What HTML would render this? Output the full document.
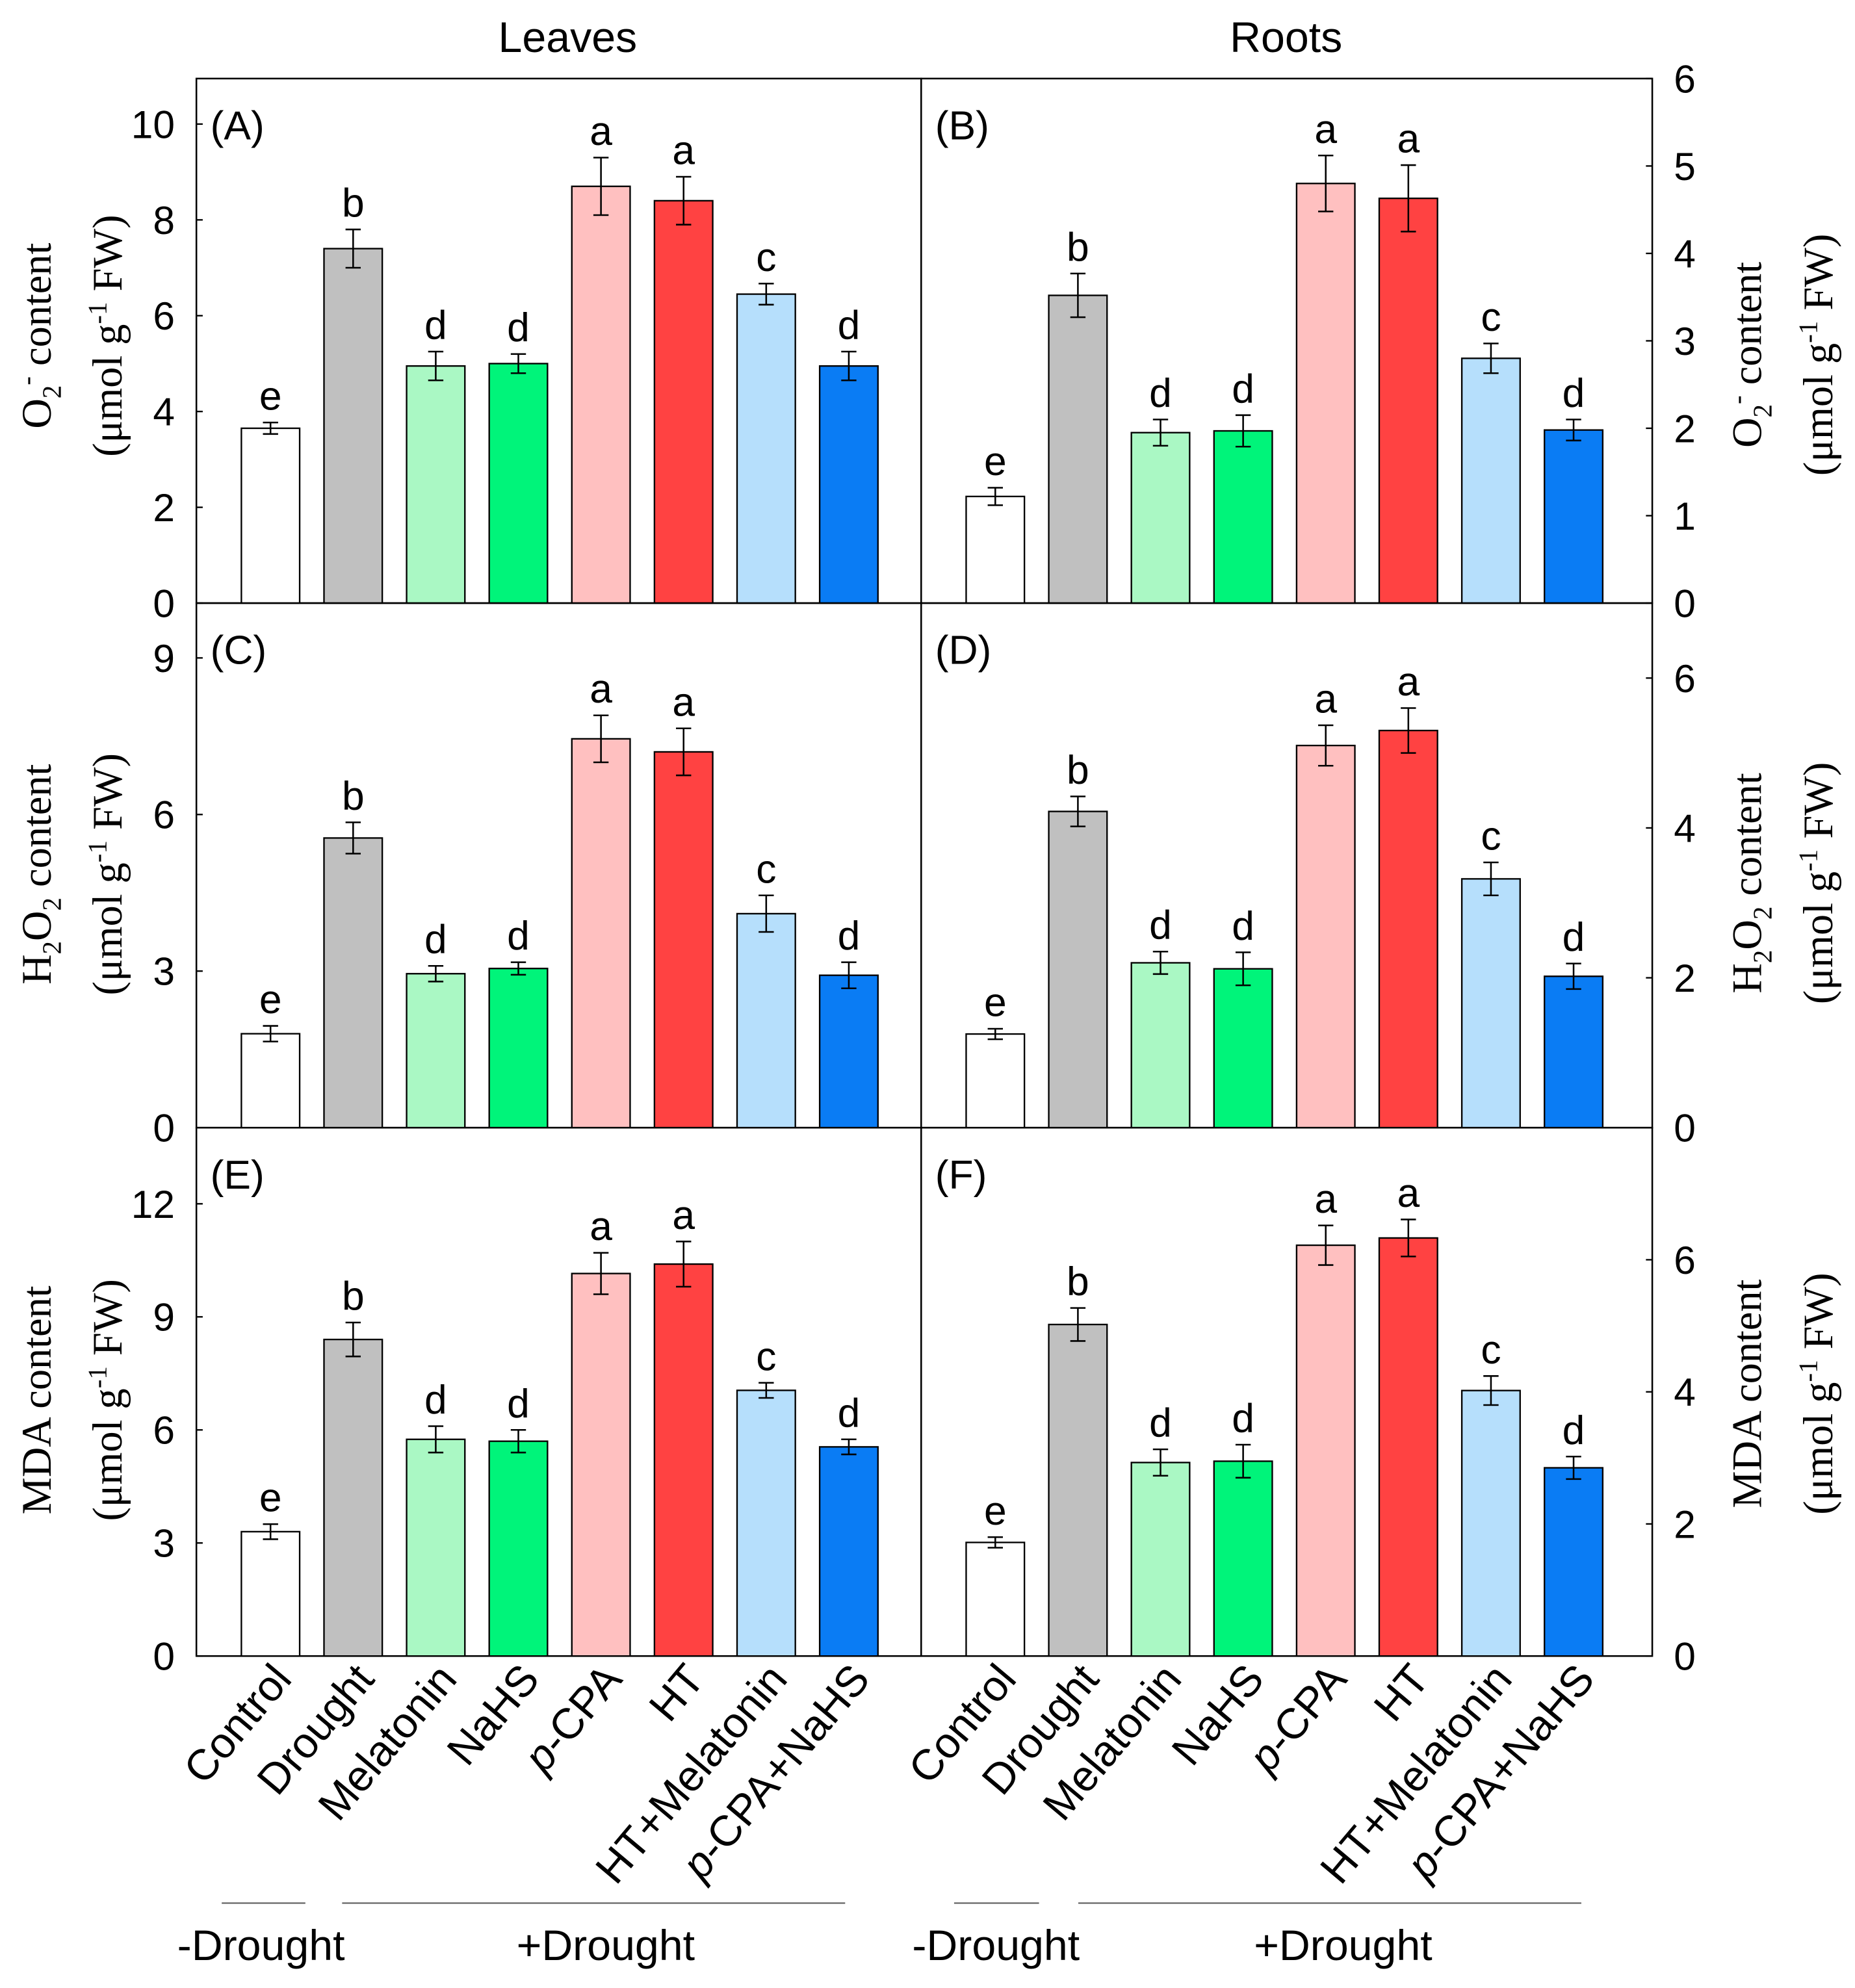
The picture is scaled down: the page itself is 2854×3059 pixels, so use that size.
<!DOCTYPE html>
<html><head><meta charset="utf-8"><style>
html,body{margin:0;padding:0;background:#fff}
svg{display:block}
.tk{font-family:"Liberation Sans",sans-serif;font-size:31px}
.yt{font-family:"Liberation Serif",serif;font-size:33px}
.lt{font-family:"Liberation Sans",sans-serif;font-size:32px}
.gl{font-family:"Liberation Sans",sans-serif;font-size:34px}
.xl{font-family:"Liberation Sans",sans-serif;font-size:34px}
</style></head><body>
<svg id="fig" width="2854" height="3059" viewBox="0 0 1464 1569" preserveAspectRatio="none" xmlns="http://www.w3.org/2000/svg"></svg>
<script>
const categories=["Control","Drought","Melatonin","NaHS","p-CPA","HT","HT+Melatonin","p-CPA+NaHS"];
const colors=["#ffffff","#c0c0c0","#aaf8c4","#00f47a","#ffc0c0","#ff4242","#b6dffc","#0a7cf4"];
const valsA=[3.65,7.4,4.95,5.0,8.7,8.4,6.45,4.95];
const errA=[0.12,0.4,0.3,0.2,0.6,0.5,0.22,0.3];
const letA=["e","b","d","d","a","a","c","d"];
const valsB=[1.22,3.52,1.95,1.97,4.8,4.63,2.8,1.98];
const errB=[0.1,0.25,0.15,0.18,0.32,0.38,0.17,0.12];
const letB=["e","b","d","d","a","a","c","d"];
const valsC=[1.8,5.55,2.95,3.05,7.45,7.2,4.1,2.92];
const errC=[0.15,0.3,0.15,0.12,0.45,0.45,0.35,0.25];
const letC=["e","b","d","d","a","a","c","d"];
const valsD=[1.25,4.22,2.2,2.12,5.1,5.3,3.32,2.02];
const errD=[0.07,0.2,0.15,0.22,0.27,0.3,0.22,0.17];
const letD=["e","b","d","d","a","a","c","d"];
const valsE=[3.3,8.4,5.75,5.7,10.15,10.4,7.05,5.55];
const errE=[0.2,0.45,0.35,0.3,0.55,0.6,0.2,0.2];
const letE=["e","b","d","d","a","a","c","d"];
const valsF=[1.72,5.02,2.93,2.95,6.22,6.33,4.02,2.85];
const errF=[0.08,0.25,0.2,0.25,0.3,0.28,0.22,0.17];
const letF=["e","b","d","d","a","a","c","d"];
const ticksA=[0,2,4,6,8,10],ticksB=[0,1,2,3,4,5,6],ticksC=[0,3,6,9],ticksD=[0,2,4,6],ticksE=[0,3,6,9,12],ticksF=[0,2,4,6];

const NS="http://www.w3.org/2000/svg";
const svg=document.getElementById('fig');
function mk(tag,attrs,parent,txt){const e=document.createElementNS(NS,tag);for(const k in attrs)e.setAttribute(k,attrs[k]);if(txt!==undefined)e.textContent=txt;(parent||svg).appendChild(e);return e;}

const panels=[
 {id:"a",lab:"(A)",x0:155,x1:727,y0:62,y1:476,max:10.95,vals:valsA,err:errA,let:letA,ticks:ticksA,side:"left"},
 {id:"b",lab:"(B)",x0:727,x1:1304,y0:62,y1:476,max:6,vals:valsB,err:errB,let:letB,ticks:ticksB,side:"right"},
 {id:"c",lab:"(C)",x0:155,x1:727,y0:476,y1:890,max:10.05,vals:valsC,err:errC,let:letC,ticks:ticksC,side:"left"},
 {id:"d",lab:"(D)",x0:727,x1:1304,y0:476,y1:890,max:7,vals:valsD,err:errD,let:letD,ticks:ticksD,side:"right"},
 {id:"e",lab:"(E)",x0:155,x1:727,y0:890,y1:1307,max:14.02,vals:valsE,err:errE,let:letE,ticks:ticksE,side:"left"},
 {id:"f",lab:"(F)",x0:727,x1:1304,y0:890,y1:1307,max:8,vals:valsF,err:errF,let:letF,ticks:ticksF,side:"right"}
];
panels.forEach(p=>{
 const g=mk('g',{});
 
 
 const y=v=>p.y1-(v/p.max)*(p.y1-p.y0);
 const xc=i=>p.x0+58.5+i*65.2;
 mk('rect',{x:p.x0,y:p.y0,width:p.x1-p.x0,height:p.y1-p.y0,fill:'none',stroke:'#000','stroke-width':1.3},g);
 const pl=mk('text',{x:p.x0+11,y:p.y0+48,class:'lt'},g,p.lab);
 
 
 p.ticks.forEach(t=>{
  const ty=y(t);
  if(p.side==="left"){
   mk('line',{x1:p.x0,x2:p.x0+5,y1:ty,y2:ty,stroke:'#000','stroke-width':1.2},g);
   const tl=mk('text',{x:p.x0-17,y:ty+11,class:'tk','text-anchor':'end'},g,String(t));
   
   
  }else{
   mk('line',{x1:p.x1,x2:p.x1-5,y1:ty,y2:ty,stroke:'#000','stroke-width':1.2},g);
   const tl=mk('text',{x:p.x1+17,y:ty+11,class:'tk','text-anchor':'start'},g,String(t));
   
   
  }
 });
 p.vals.forEach((v,i)=>{
  const cx=xc(i),top=y(v);
  const r=mk('rect',{x:cx-23,y:top,width:46,height:p.y1-top,fill:colors[i],stroke:'#000','stroke-width':1.2},g);
  
  
  const eh=y(v+p.err[i]),el=y(v-p.err[i]);
  mk('path',{d:`M${cx},${eh}V${el}M${cx-6},${eh}H${cx+6}M${cx-6},${el}H${cx+6}`,stroke:'#000','stroke-width':1.3,fill:'none'},g);
  const lt=mk('text',{x:cx,y:eh-10,class:'lt','text-anchor':'middle'},g,p.let[i]);
  
  
 });
});

function ytitle(cx,cy,line1,name){
 const g=mk('g',{transform:`translate(${cx},${cy}) rotate(-90)`});
 
 
 const t1=mk('text',{x:0,y:0,class:'yt','text-anchor':'middle'},g);
 t1.innerHTML=line1;
 const t2=mk('text',{x:0,y:56,class:'yt','text-anchor':'middle'},g);
 t2.innerHTML='(μmol g<tspan dy="-12" font-size="21">-1</tspan><tspan dy="12"> FW)</tspan>';
}
const o2='O<tspan dy="8" font-size="21">2</tspan><tspan dy="-20" font-size="21">-</tspan><tspan dy="12"> content</tspan>';
const h2='H<tspan dy="8" font-size="21">2</tspan><tspan dy="-8">O</tspan><tspan dy="8" font-size="21">2</tspan><tspan dy="-8"> content</tspan>';
const mda='MDA content';
ytitle(40,265,o2,'y-axis-title-a');
ytitle(40,690,h2,'y-axis-title-c');
ytitle(40,1105,mda,'y-axis-title-e');
ytitle(1390,280,o2,'y-axis-title-b');
ytitle(1390,697,h2,'y-axis-title-d');
ytitle(1390,1100,mda,'y-axis-title-f');

[[448,"Leaves"],[1015,"Roots"]].forEach(([x,t])=>{
 const e=mk('text',{x:x,y:41,class:'gl','text-anchor':'middle'},svg,t);
 
 
});

[155,727].forEach(x0=>{
 categories.forEach((c,i)=>{
  const cx=x0+58.5+i*65.2+18;
  const e=mk('text',{class:'xl','text-anchor':'end',transform:`translate(${cx},1326) rotate(-50)`},svg);
  if(c.startsWith('p-')){e.innerHTML='<tspan font-style="italic">p</tspan>'+c.slice(1);}else e.textContent=c;
  
  
 });
});

[[175,241,206,"-Drought"],[270,667,478,"+Drought"],[753,820,786,"-Drought"],[851,1248,1060,"+Drought"]].forEach(([a,b,c,t])=>{
 mk('line',{x1:a,x2:b,y1:1502,y2:1502,stroke:'#555','stroke-width':1});
 const e=mk('text',{x:c,y:1547,class:'gl','text-anchor':'middle'},svg,t);
 
 
});
</script>
</body></html>
